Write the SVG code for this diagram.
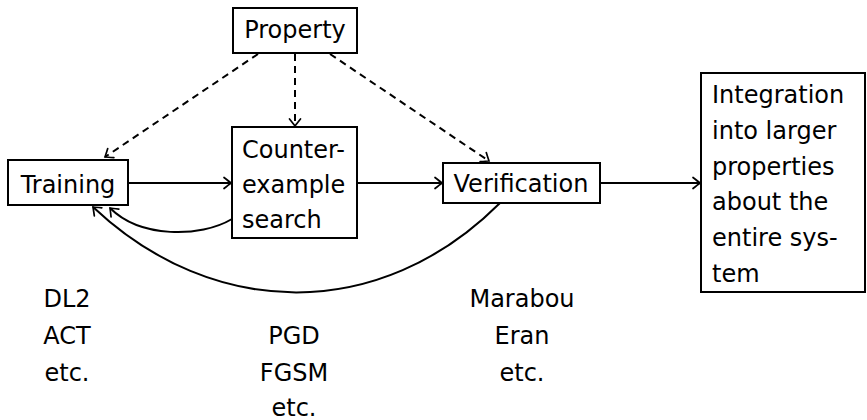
<svg xmlns="http://www.w3.org/2000/svg" width="867" height="420" viewBox="0 0 867 420">
  <style>
    .box { fill: #ffffff; stroke: #000000; stroke-width: 2; }
    .lbl { font-family: "DejaVu Sans", "Liberation Sans", sans-serif; font-size: 24px; fill: #000000; }
    .mid { text-anchor: middle; }
    .edge { fill: none; stroke: #000000; stroke-width: 2; marker-end: url(#tip); }
    .dash { stroke-dasharray: 7 5; }
  </style>
  <defs>
    <marker id="tip" viewBox="-9 -7 11 14" markerWidth="11" markerHeight="14" refX="0" refY="0" orient="auto" markerUnits="userSpaceOnUse">
      <path d="M -7 -5.5 Q -2 -1.5 0 0 Q -2 1.5 -7 5.5" fill="none" stroke="#000000" stroke-width="1.7" stroke-linecap="round"/>
    </marker>
  </defs>

  <!-- connectors -->
  <g id="connectors">
    <path class="edge dash" d="M 258 54 L 105 157"/>
    <path class="edge dash" d="M 295 54 L 295 126"/>
    <path class="edge dash" d="M 330 54 L 489 161"/>
    <path class="edge" d="M 128 183 L 231 183"/>
    <path class="edge" d="M 357 183 L 442 183"/>
    <path class="edge" d="M 600 183 L 700 183"/>
    <path class="edge" d="M 232 219 C 200 238 140 238 110 208"/>
    <path class="edge" d="M 500 203 C 380 323 213 320 93 207"/>
  </g>

  <!-- nodes -->
  <g id="property">
    <rect class="box" x="233" y="8" width="124" height="45"/>
    <text class="lbl mid" x="295" y="38">Property</text>
  </g>
  <g id="training">
    <rect class="box" x="8" y="160" width="120" height="45"/>
    <text class="lbl mid" x="68" y="193">Training</text>
  </g>
  <g id="counterexample">
    <rect class="box" x="232" y="127" width="125" height="111"/>
    <text class="lbl" x="242" y="158">Counter-</text>
    <text class="lbl" x="242" y="193">example</text>
    <text class="lbl" x="242" y="228">search</text>
  </g>
  <g id="verification">
    <rect class="box" x="443" y="163" width="157" height="40"/>
    <text class="lbl mid" x="521" y="192">Verification</text>
  </g>
  <g id="integration">
    <rect class="box" x="701" y="73" width="164" height="219"/>
    <text class="lbl" x="712" y="103">Integration</text>
    <text class="lbl" x="712" y="139">into larger</text>
    <text class="lbl" x="712" y="175">properties</text>
    <text class="lbl" x="712" y="210">about the</text>
    <text class="lbl" x="712" y="246">entire sys-</text>
    <text class="lbl" x="712" y="282">tem</text>
  </g>

  <!-- tool examples -->
  <g id="training-tools">
    <text class="lbl mid" x="67" y="307">DL2</text>
    <text class="lbl mid" x="67" y="344">ACT</text>
    <text class="lbl mid" x="67" y="381">etc.</text>
  </g>
  <g id="search-tools">
    <text class="lbl mid" x="294" y="344">PGD</text>
    <text class="lbl mid" x="294" y="381">FGSM</text>
    <text class="lbl mid" x="294" y="416">etc.</text>
  </g>
  <g id="verification-tools">
    <text class="lbl mid" x="522" y="307">Marabou</text>
    <text class="lbl mid" x="522" y="344">Eran</text>
    <text class="lbl mid" x="522" y="381">etc.</text>
  </g>
</svg>
